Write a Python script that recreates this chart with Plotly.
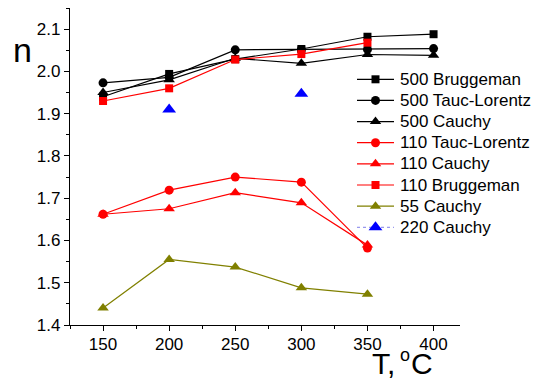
import plotly.graph_objects as go

T = [150, 200, 250, 300, 350, 400]
T5 = [150, 200, 250, 300, 350]

n500_brug = [1.940, 1.994, 2.029, 2.053, 2.082, 2.088]
n500_tl = [1.973, 1.986, 2.051, 2.052, 2.052, 2.054]
n500_cau = [1.950, 1.980, 2.031, 2.019, 2.040, 2.038]
n110_tl = [1.662, 1.719, 1.750, 1.738, 1.582]
n110_cau = [1.662, 1.675, 1.713, 1.689, 1.589]
n110_brug = [1.930, 1.960, 2.028, 2.041, 2.068]
n55_cau = [1.440, 1.555, 1.537, 1.488, 1.473]
T220 = [200, 300]
n220_cau = [1.910, 1.947]

x_ticks = [150, 200, 250, 300, 350, 400]

FONT = "Liberation Sans, Arial"

series = [
    (T, n500_brug, "500 Bruggeman", "black", "black", "square", 8, "solid", True),
    (T, n500_tl, "500 Tauc-Lorentz", "black", "black", "circle", 9, "solid", True),
    (T, n500_cau, "500 Cauchy", "black", "black", "triangle-up", 10, "solid", True),
    (T5, n110_tl, "110 Tauc-Lorentz", "#ff0000", "#ff0000", "circle", 9, "solid", True),
    (T5, n110_cau, "110 Cauchy", "#ff0000", "#ff0000", "triangle-up", 10, "solid", True),
    (T5, n110_brug, "110 Bruggeman", "#ff0000", "#ff0000", "square", 8, "solid", True),
    (T5, n55_cau, "55 Cauchy", "#808000", "#808000", "triangle-up", 10, "solid", True),
    (T220, n220_cau, "220 Cauchy", "#0000ff", "#9999ee", "triangle-up", 12, "dot", False),
]

# plot area in pixels
PL, PR, PT, PB = 70, 460, 8, 325

def px(xp):
    return (xp - PL) / (PR - PL)

def py(yp):
    return (PB - yp) / (PB - PT)

fig = go.Figure()

for x, y, name, mcol, lcol, sym, size, dash, lines in series:
    fig.add_trace(go.Scatter(
        x=x, y=y, name=name, mode="lines+markers" if lines else "markers",
        showlegend=False,
        line=dict(color=lcol, width=1.2),
        marker=dict(color=mcol, symbol=sym, size=size),
    ))

# hand-made legend on an overlay axis measured in pixels
LX0, LX1, LTX = 357, 394, 398
LY0, LDY = 79.3, 21.14
for i, (x, y, name, mcol, lcol, sym, size, dash, lines) in enumerate(series):
    yy = LY0 + LDY * i
    fig.add_trace(go.Scatter(
        x=[LX0, LX1], y=[yy, yy], mode="lines", xaxis="x2", yaxis="y2",
        showlegend=False, hoverinfo="skip",
        line=dict(color=lcol, width=1.2, dash=dash),
    ))
    fig.add_trace(go.Scatter(
        x=[(LX0 + LX1) / 2], y=[yy], mode="markers", xaxis="x2", yaxis="y2",
        showlegend=False, hoverinfo="skip",
        marker=dict(color=mcol, symbol=sym, size=size),
    ))
    fig.add_annotation(text=name, xref="paper", yref="paper", x=px(LTX), y=py(yy),
                       xanchor="left", yanchor="middle", showarrow=False,
                       font=dict(family=FONT, size=17, color="black"))

axis_common = dict(
    showline=True, linecolor="black", linewidth=1.3,
    ticks="outside", ticklen=5, tickwidth=1.3, tickcolor="black",
    showgrid=False, zeroline=False,
    tickfont=dict(family=FONT, size=17, color="black"),
    minor=dict(ticks="outside", ticklen=3, tickwidth=1.2, tickcolor="black"),
)

fig.update_layout(
    xaxis=dict(range=[125, 420], tickvals=x_ticks,
               ticklabelstandoff=-2, **axis_common),
    yaxis=dict(range=[1.4, 2.15], dtick=0.1, tick0=1.4, tickformat=".1f",
               **axis_common),
    xaxis2=dict(overlaying="x", anchor="y2", range=[PL, PR], visible=False,
                fixedrange=True),
    yaxis2=dict(overlaying="y", anchor="x2", range=[PB, PT], visible=False,
                fixedrange=True),
)
fig.layout.xaxis.minor.dtick = 25
fig.layout.xaxis.minor.tick0 = 125
fig.layout.yaxis.minor.dtick = 0.05
fig.layout.yaxis.minor.tick0 = 1.4

fig.add_annotation(text="n", xref="paper", yref="paper", x=px(22), y=py(50),
                   showarrow=False, xanchor="center", yanchor="middle",
                   font=dict(family=FONT, size=34, color="black"))

# x-axis title "T, °C" in three pieces (superscript o)
title_font = dict(family=FONT, size=30, color="black")
fig.add_annotation(text="T,", xref="paper", yref="paper", x=px(371), y=py(364),
                   showarrow=False, xanchor="left", yanchor="middle",
                   borderpad=0, font=title_font)
fig.add_annotation(text="o", xref="paper", yref="paper", x=px(405), y=py(355),
                   showarrow=False, xanchor="center", yanchor="middle",
                   borderpad=0, font=dict(family=FONT, size=18, color="black"))
fig.add_annotation(text="C", xref="paper", yref="paper", x=px(434), y=py(364),
                   showarrow=False, xanchor="right", yanchor="middle",
                   borderpad=0, font=title_font)

fig.update_layout(
    width=543, height=381,
    margin=dict(l=PL, r=543 - PR, t=PT, b=381 - PB),
    plot_bgcolor="white", paper_bgcolor="white",
    showlegend=False,
)

fig.write_html("out.html")
